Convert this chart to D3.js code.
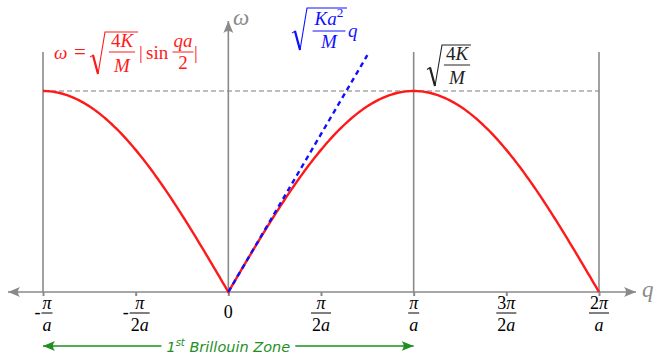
<!DOCTYPE html>
<html><head><meta charset="utf-8">
<script src="https://cdn.jsdelivr.net/npm/d3@7"></script>
<style>body{margin:0;background:#fff} svg{display:block}</style>
</head><body><svg id="c" width="654" height="356"></svg>
<script>
// Phonon dispersion of a monatomic chain.
// q in units of π/a, ω in units of sqrt(4K/M).
const qDomain = [-1, 2];
const qTicks = [-1, -0.5, 0, 0.5, 1, 1.5, 2];
const tickSigns = ["-", "-", "", "", "", "", ""];
const tickNumerators = ["π", "π", "0", "π", "π", "3π", "2π"];
const tickDenominators = ["a", "2a", "", "2a", "a", "2a", "a"];
const guideLines = [-1, 1, 2];      // vertical guides at zone edges
const zoneRange = [-1, 1];          // first Brillouin zone
const omegaMax = 1;                 // sqrt(4K/M)
const soundLineQ = [0, 0.75];       // long-wavelength limit drawn over this q range

// ω = sqrt(4K/M)|sin(qa/2)|, with qa/2 = q·π/2 in these units
const dispersion = q => omegaMax * Math.abs(Math.sin(q * Math.PI / 2));
// ω = sqrt(Ka²/M) q  (slope of the dispersion at q = 0)
const soundLine = q => omegaMax * q * Math.PI / 2;

const GRAY = "#8a8a8a";
const RED = "#ff1a1a";
const BLUE = "#1010ff";
const GREEN = "#1f8f1f";
const MATH = "'Liberation Serif', 'Times New Roman', serif";

const svg = d3.select("#c");
const x = d3.scaleLinear().domain(qDomain).range([43, 599]);
const y = d3.scaleLinear().domain([0, omegaMax]).range([292, 91]);
const y0 = y(0);

// arrowhead marker (latex style)
const defs = svg.append("defs");
function marker(id, color) {
  defs.append("marker").attr("id", id).attr("viewBox", "-12 -6 14 12")
    .attr("refX", 0).attr("refY", 0).attr("markerWidth", 14).attr("markerHeight", 12)
    .attr("markerUnits", "userSpaceOnUse").attr("orient", "auto")
    .append("path").attr("d", "M0,0 L-12,-5 Q-8,0 -12,5 Z").attr("fill", color);
}
marker("ag", GRAY);
marker("agr", GREEN);

// math text helper: parts = [[string, style]], style: "i" italic, "r" roman, "sup" superscript
function math(g, px, py, parts, {size = 19, color = "#000", anchor = "start"} = {}) {
  const t = g.append("text").attr("x", px).attr("y", py)
    .style("font-family", MATH).style("font-size", size + "px").attr("fill", color)
    .attr("text-anchor", anchor);
  parts.forEach(([s, st]) => {
    const sp = t.append("tspan").text(s);
    if (st === "i") sp.style("font-style", "italic");
    if (st === "sup") sp.style("font-size", (size * 0.7) + "px").attr("dy", -size * 0.42);
  });
  return t;
}
function frac(g, cx, barY, num, den, {size = 19, color = "#000", numBase, denBase, pad = 2} = {}) {
  const n = math(g, cx, numBase, num, {size, color, anchor: "middle"});
  const d = math(g, cx, denBase, den, {size, color, anchor: "middle"});
  const w = Math.max(n.node().getComputedTextLength(), d.node().getComputedTextLength()) + 2 * pad;
  g.append("line").attr("x1", cx - w / 2).attr("x2", cx + w / 2)
    .attr("y1", barY).attr("y2", barY).attr("stroke", color).attr("stroke-width", 1);
  return w;
}
function radical(g, x0, top, bottom, x1, color) {
  const mid = top + (bottom - top) * 0.55;
  g.append("path")
    .attr("d", `M${x0},${mid + 2} L${x0 + 3},${mid} L${x0 + 8},${bottom} L${x0 + 15},${top} L${x1},${top}`)
    .attr("fill", "none").attr("stroke", color).attr("stroke-width", 1.1).attr("stroke-linejoin", "miter");
  g.append("path").attr("d", `M${x0 + 3},${mid} L${x0 + 8},${bottom}`)
    .attr("stroke", color).attr("stroke-width", 2.2);
}

// dashed level at ω max
svg.append("line").attr("x1", x(-1)).attr("x2", x(2)).attr("y1", y(omegaMax)).attr("y2", y(omegaMax))
  .attr("stroke", "#7a7a7a").attr("stroke-width", 1).attr("stroke-dasharray", "5,3");

// vertical guides
svg.selectAll("line.guide").data(guideLines).join("line").attr("class", "guide")
  .attr("x1", d => x(d)).attr("x2", d => x(d)).attr("y1", 52).attr("y2", y0)
  .attr("stroke", GRAY).attr("stroke-width", 1.6);

// q axis (both directions) and ω axis
svg.append("line").attr("x1", x(0)).attr("x2", 8).attr("y1", y0).attr("y2", y0)
  .attr("stroke", GRAY).attr("stroke-width", 1.6).attr("marker-end", "url(#ag)");
svg.append("line").attr("x1", x(0)).attr("x2", 636).attr("y1", y0).attr("y2", y0)
  .attr("stroke", GRAY).attr("stroke-width", 1.6).attr("marker-end", "url(#ag)");
svg.append("line").attr("x1", x(0)).attr("x2", x(0)).attr("y1", y0).attr("y2", 21)
  .attr("stroke", GRAY).attr("stroke-width", 1.6).attr("marker-end", "url(#ag)");

// ticks
const axis = d3.axisBottom(x).tickValues(qTicks).tickSize(4).tickFormat("");
const ag = svg.append("g").attr("transform", `translate(0,${y0})`).call(axis);
ag.select(".domain").remove();
ag.selectAll(".tick line").attr("stroke", GRAY).attr("stroke-width", 2);

// tick labels
const tl = svg.append("g");
qTicks.forEach((q, i) => {
  const cx = x(q);
  if (!tickDenominators[i]) {
    math(tl, cx, 318, [[tickNumerators[i], "r"]], {size: 18, anchor: "middle"});
    return;
  }
  const num = tickNumerators[i].split("").map(c => [c, c === "π" ? "i" : "r"]);
  const den = tickDenominators[i].split("").map(c => [c, /[a-z]/.test(c) ? "i" : "r"]);
  const off = tickSigns[i] ? 4 : 0;
  const w = frac(tl, cx + off, 313, num, den, {size: 18, numBase: 309, denBase: 331, pad: 1});
  if (tickSigns[i]) math(tl, cx + off - w / 2 - 1, 318, [["-", "r"]], {size: 18, anchor: "end"});
});

// dispersion curve
const qs = d3.range(qDomain[0], qDomain[1] + 1e-9, 0.01);
svg.append("path").datum(qs)
  .attr("d", d3.line().x(q => x(q)).y(q => y(dispersion(q))))
  .attr("fill", "none").attr("stroke", RED).attr("stroke-width", 2.4);

// long-wavelength sound line
svg.append("path").datum(soundLineQ)
  .attr("d", d3.line().x(q => x(q)).y(q => y(soundLine(q))))
  .attr("fill", "none").attr("stroke", BLUE).attr("stroke-width", 2.4).attr("stroke-dasharray", "5,4");

// axis names
math(svg, 233, 25, [["ω", "i"]], {size: 23, color: GRAY});
math(svg, 642, 297, [["q", "i"]], {size: 23, color: GRAY});

// formula: ω = sqrt(4K/M) |sin qa/2|
const fr = svg.append("g");
math(fr, 54, 59, [["ω", "i"]], {color: RED});
math(fr, 80, 59, [["=", "r"]], {size: 21, color: RED, anchor: "middle"});
radical(fr, 90, 32, 74, 138, RED);
frac(fr, 122, 52, [["4", "r"], ["K", "i"]], [["M", "i"]], {color: RED, numBase: 47, denBase: 72});
math(fr, 141, 59, [["|", "r"]], {color: RED, anchor: "middle"});
math(fr, 146, 59, [["sin", "r"]], {color: RED});
frac(fr, 183, 52, [["qa", "i"]], [["2", "r"]], {color: RED, numBase: 47, denBase: 69, pad: 1});
math(fr, 196, 59, [["|", "r"]], {color: RED, anchor: "middle"});

// formula: sqrt(Ka²/M) q
const fb = svg.append("g");
radical(fb, 292, 8, 50, 347, BLUE);
frac(fb, 329, 31, [["Ka", "i"], ["2", "sup"]], [["M", "i"]], {color: BLUE, numBase: 25, denBase: 48});
math(fb, 348, 37, [["q", "i"]], {color: BLUE});

// formula: sqrt(4K/M)
const fk = svg.append("g");
radical(fk, 427, 45, 86, 471, "#222");
frac(fk, 457, 65, [["4", "r"], ["K", "i"]], [["M", "i"]], {color: "#222", numBase: 60, denBase: 84});

// first Brillouin zone marker
const zy = 346;
const label = svg.append("text").attr("x", x(0)).attr("y", 352).attr("text-anchor", "middle")
  .style("font-family", "'DejaVu Sans', sans-serif").style("font-style", "italic")
  .style("font-size", "14.5px").attr("fill", GREEN);
label.append("tspan").text("1");
label.append("tspan").text("st").style("font-size", "10px").attr("dy", -6);
label.append("tspan").text(" Brillouin Zone").attr("dy", 6);
const bb = label.node().getBBox();
svg.append("line").attr("x1", bb.x - 5).attr("x2", x(zoneRange[0])).attr("y1", zy).attr("y2", zy)
  .attr("stroke", GREEN).attr("stroke-width", 1.6).attr("marker-end", "url(#agr)");
svg.append("line").attr("x1", bb.x + bb.width + 5).attr("x2", x(zoneRange[1])).attr("y1", zy).attr("y2", zy)
  .attr("stroke", GREEN).attr("stroke-width", 1.6).attr("marker-end", "url(#agr)");
</script></body></html>
